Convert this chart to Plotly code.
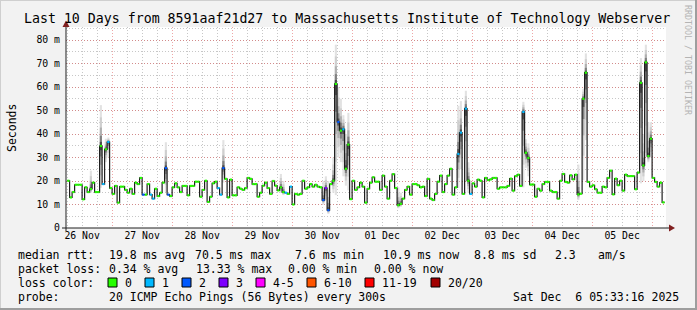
import pandas as pd
import plotly.graph_objects as go

# ---------------- data ----------------
title = "Last 10 Days from 8591aaf21d27 to Massachusetts Institute of Technology Webserver"
series_start = "2025-11-26 06:00"          # first hourly step
range_start = "2025-11-26 05:33:16"
range_end = "2025-12-06 05:33:16"
hour0 = "2025-11-26 00:00"

# hourly median rtt (ms), 26 Nov 06:00 .. 06 Dec 04:00
median_ms = [
    20.1, 13.0, 15.3, 18.4, 18.4, 18.4, 12.2, 17.3, 15.3, 16.6,
    19.3, 15.3, 15.3, 34.9, 18.7, 33.5, 36.6, 17.0, 14.5, 17.9,
    10.8, 17.6, 17.6, 16.2, 15.0, 16.7, 14.5, 19.3, 18.7, 21.3,
    14.2, 14.2, 18.7, 14.2, 12.5, 16.7, 13.6, 15.0, 19.3, 25.5,
    14.2, 13.6, 17.3, 19.0, 17.3, 15.3, 17.9, 17.9, 13.9, 17.9,
    17.9, 19.7, 19.7, 13.3, 16.2, 20.1, 11.1, 13.3, 19.0, 19.7,
    17.0, 14.2, 25.5, 20.9, 13.0, 20.6, 13.9, 13.9, 17.3, 16.7,
    16.2, 17.0, 21.3, 20.9, 18.7, 18.7, 13.3,
    15.0, 18.0, 19.3, 17.0, 14.5, 20.0, 18.0, 16.0,
    17.3, 15.3, 15.0, 14.5, 17.6, 10.0, 14.5, 14.2, 14.5, 20.1,
    16.7, 17.3, 18.7, 17.6, 18.4, 17.6, 17.3, 11.9, 17.0, 7.6,
    18.7, 20.1, 61.3, 45.1, 41.4, 42.0, 25.2, 35.5, 12.3, 20.1,
    16.2, 17.3, 19.3, 17.6,
    10.8, 16.7, 19.3, 21.6, 19.7, 19.7, 16.2, 22.3, 17.6, 12.5,
    20.1, 22.9, 17.0, 9.7, 10.3, 12.5, 16.2, 17.6, 14.2, 18.7,
    18.7, 18.2, 17.3, 17.6, 13.6, 20.9, 12.5, 11.9, 14.5, 19.7,
    22.3, 15.3, 18.7, 22.3, 25.2, 14.2, 17.3, 31.5, 40.6, 14.5,
    50.8, 20.1, 14.5, 19.0, 17.6, 20.6,
    20.1, 13.0, 21.3, 20.4, 20.7, 21.3, 21.3, 16.7, 17.3, 17.3,
    17.3, 17.9, 21.0, 15.9, 22.1, 22.7, 17.9, 49.4, 32.0, 29.8,
    18.5, 18.5, 13.3, 16.7, 15.9, 18.7, 19.6, 19.6, 15.9, 15.3,
    15.3, 12.5, 20.1, 23.0, 19.6, 19.3, 22.4, 20.7, 22.7, 14.3,
    14.6, 55.0, 66.1, 19.6, 17.6, 18.2, 16.5, 15.0, 15.0, 17.6,
    17.3, 21.3, 24.4, 14.3, 21.0, 18.2, 20.1, 15.9, 22.7, 22.1,
    22.1, 22.1, 16.5, 23.6, 61.8, 26.6, 70.5, 30.6, 38.0, 21.3,
    19.6, 17.6, 19.3, 10.9,
]

# hours (since 26 Nov 00:00) with lost pings, and how many of 20 were lost
loss_hours = [20, 22, 36, 39, 40, 45, 46, 66, 67, 68, 93, 95, 108, 109, 110,
              114, 116, 162, 163, 165, 167, 188]
loss_counts = [1, 1, 2, 1, 1, 2, 2, 1, 1, 2, 1, 1, 2, 3, 2,
               2, 1, 1, 1, 1, 1, 1]

# smoke (ping spread) for the hours where it is visible
smoke_hours = [15, 19, 21, 22, 45, 68, 91, 92, 108, 109, 110, 112, 113, 114, 115,
               116, 117, 118, 138, 139, 162, 163, 165, 166, 188, 189, 190, 210,
               212, 213, 235, 236, 237, 238, 239]
smoke_lo = [15.0, 17.1, 28.0, 30.0, 15.3, 19.3, 15.0, 14.0, 10.0, 12.0, 6.0, 15.0, 14.0, 30.0, 28.0,
            22.0, 18.0, 16.0, 8.4, 9.0, 17.0, 25.0, 20.0, 15.0, 17.3, 25.6, 22.0, 11.9,
            20.4, 37.4, 19.0, 20.0, 32.0, 28.0, 30.0]
smoke_hi = [24.4, 52.3, 38.0, 38.5, 36.5, 37.4, 23.0, 20.0, 20.0, 22.0, 20.0, 30.0, 78.0, 60.0, 55.0,
            48.0, 40.0, 49.0, 17.3, 15.0, 52.0, 54.0, 58.4, 28.0, 53.7, 37.8, 36.0, 27.0,
            59.3, 74.3, 72.3, 40.0, 78.0, 45.0, 45.0]

loss_labels = ["0", "1", "2", "3", "4-5", "6-10", "11-19", "20/20"]
loss_colors = ["#26ff00", "#00b8ff", "#0059ff", "#7e00ff", "#ff00ff", "#ff5500", "#ff0000", "#a10000"]
loss_upper = [0, 1, 2, 3, 5, 10, 19, 20]

y_tickvals = [0, 10, 20, 30, 40, 50, 60, 70, 80]
y_ticktext = ["0", "10 m", "20 m", "30 m", "40 m", "50 m", "60 m", "70 m", "80 m"]

rtt_line = ["median rtt:", "19.8 ms avg", "70.5 ms max", "7.6 ms min", "10.9 ms now", "8.8 ms sd", "2.3", "am/s"]
loss_line = ["packet loss:", "0.34 % avg", "13.33 % max", "0.00 % min", "0.00 % now"]
probe_label = "probe:"
probe_text = "20 ICMP Echo Pings (56 Bytes) every 300s"
stamp = "Sat Dec  6 05:33:16 2025"
watermark = "RRDTOOL / TOBI OETIKER"

# ---------------- layout geometry ----------------
W, H = 697, 310
L, R, T, B = 66, 31, 27, 82
PW, PH = W - L - R, H - T - B
FONT = "DejaVu Sans Mono"


def px(x):
    return (x - L) / PW


def py(y):
    return (H - B - y) / PH


# ---------------- traces ----------------
times = pd.date_range(series_start, periods=len(median_ms), freq="h")
step = pd.Timedelta(hours=1)
t0 = pd.Timestamp(hour0)
first_hour = int((times[0] - t0) / step)

fig = go.Figure()

# smoke as nested grey bands around the median
layers = [(1.0, "#e2e2e2"), (0.7, "#cfcfcf"), (0.45, "#b0b0b0"), (0.25, "#808080"), (0.1, "#4a4a4a")]
for frac, col in layers:
    xs, bases, hs = [], [], []
    for h, lo, hi in zip(smoke_hours, smoke_lo, smoke_hi):
        med = median_ms[h - first_hour]
        a = med - frac * (med - lo)
        b = med + frac * (hi - med)
        xs.append(t0 + h * step + step / 2)
        bases.append(a)
        hs.append(b - a)
    fig.add_trace(go.Bar(x=xs, y=hs, base=bases, width=3000000, marker=dict(color=col, line=dict(width=0)),
                         hoverinfo="skip", showlegend=False))

# median step line (dark connectors)
fig.add_trace(go.Scatter(x=list(times) + [times[-1] + step], y=median_ms + [median_ms[-1]],
                         mode="lines", line=dict(shape="hv", color="#1f1f1f", width=1.2),
                         hoverinfo="skip", showlegend=False))

# loss-coloured horizontal parts
loss_of = dict(zip(loss_hours, loss_counts))


def level(n):
    for i, u in enumerate(loss_upper):
        if n <= u:
            return i
    return len(loss_upper) - 1


seg = {i: ([], []) for i in range(len(loss_colors))}
for i, (t, v) in enumerate(zip(times, median_ms)):
    lv = level(loss_of.get(first_hour + i, 0))
    seg[lv][0].extend([t + step * 0.05, t + step * 0.95, None])
    seg[lv][1].extend([v, v, None])
for lv, (xs, ys) in seg.items():
    if xs:
        fig.add_trace(go.Scatter(x=xs, y=ys, mode="lines", line=dict(color=loss_colors[lv], width=2.2),
                                 hoverinfo="skip", showlegend=False))

# ---------------- axes ----------------
grid_minor = "rgba(143,143,143,0.5)"
grid_major = "rgba(222,79,79,0.5)"
fig.update_xaxes(type="date", range=[range_start, range_end], tick0=hour0, dtick=86400000,
                 ticklabelmode="period", tickformat="%d %b", showgrid=True, gridcolor=grid_major,
                 griddash="1px,2px", gridwidth=1, zeroline=False, showline=False, ticks="",
                 tickfont=dict(family=FONT, size=9.8, color="#000000"),
                 minor=dict(dtick=21600000, tick0=hour0, showgrid=True, gridcolor=grid_minor,
                            griddash="1px,2px", gridwidth=1))
fig.update_yaxes(range=[0, PH / 2.35], tickvals=y_tickvals, ticktext=y_ticktext, showgrid=True,
                 gridcolor=grid_major, griddash="1px,2px", gridwidth=1, zeroline=False, showline=False,
                 ticks="", ticklabelstandoff=5, tickfont=dict(family=FONT, size=9.8, color="#000000"),
                 minor=dict(dtick=5, showgrid=True, gridcolor=grid_minor, griddash="1px,2px", gridwidth=1))

shapes = []
# frame shading
shapes.append(dict(type="line", xref="paper", yref="paper", x0=px(0), x1=px(W), y0=py(0.5), y1=py(0.5),
                   line=dict(color="#cfcfcf", width=1)))
shapes.append(dict(type="line", xref="paper", yref="paper", x0=px(0.5), x1=px(0.5), y0=py(0), y1=py(H),
                   line=dict(color="#cfcfcf", width=1)))
shapes.append(dict(type="line", xref="paper", yref="paper", x0=px(0), x1=px(W), y0=py(H - 1), y1=py(H - 1),
                   line=dict(color="#9e9e9e", width=2)))
shapes.append(dict(type="line", xref="paper", yref="paper", x0=px(W - 1), x1=px(W - 1), y0=py(0), y1=py(H),
                   line=dict(color="#9e9e9e", width=2)))
# axis lines with arrows
shapes.append(dict(type="line", xref="paper", yref="paper", x0=px(62), x1=px(670), y0=0, y1=0,
                   line=dict(color="#1f1f1f", width=1)))
shapes.append(dict(type="line", xref="paper", yref="paper", x0=0, x1=0, y0=py(231), y1=py(24),
                   line=dict(color="#1f1f1f", width=1)))
shapes.append(dict(type="path", xref="paper", yref="paper",
                   path=f"M {px(669)},{py(224.5)} L {px(675)},{py(228)} L {px(669)},{py(231.5)} Z",
                   fillcolor="#801f1f", line=dict(width=0)))
shapes.append(dict(type="path", xref="paper", yref="paper",
                   path=f"M {px(62.5)},{py(27)} L {px(66)},{py(20.5)} L {px(69.5)},{py(27)} Z",
                   fillcolor="#801f1f", line=dict(width=0)))

ann = []


def text(x, y, s, size=11.5, anchor="left", color="#000000", angle=0):
    ann.append(dict(xref="paper", yref="paper", x=px(x), y=py(y), text=s, showarrow=False,
                    xanchor=anchor, yanchor="middle", textangle=angle,
                    font=dict(family=FONT, size=size, color=color)))


text(347, 18, title, size=13.25, anchor="center")
text(12, 128, "Seconds", size=11.5, anchor="center", angle=-90)
text(688, 60, watermark, size=8.3, anchor="center", color="#b4b4b4", angle=90)

rtt_x = [16, 107, 193, 293, 381, 472, 553, 596]
for x, s in zip(rtt_x, rtt_line):
    text(x, 254.5, s)
loss_x = [16, 107, 194, 286, 372]
for x, s in zip(loss_x, loss_line):
    text(x, 268.5, s)
text(16, 282.5, "loss color:")
box_x = [108, 145, 182, 219, 256, 307, 365, 431]
for x, s, c in zip(box_x, loss_labels, loss_colors):
    shapes.append(dict(type="rect", xref="paper", yref="paper", x0=px(x), x1=px(x + 9),
                       y0=py(287), y1=py(278), fillcolor=c, line=dict(color="#000000", width=1)))
    text(x + 15, 282.5, s)
text(16, 296.5, probe_label)
text(107, 296.5, probe_text)
text(681, 296.5, stamp, anchor="right")

fig.update_layout(width=W, height=H, autosize=False, margin=dict(l=L, r=R, t=T, b=B, pad=0),
                  paper_bgcolor="#f2f2f2", plot_bgcolor="#ffffff", barmode="overlay",
                  showlegend=False, shapes=shapes, annotations=ann)

fig.write_html("out.html")
